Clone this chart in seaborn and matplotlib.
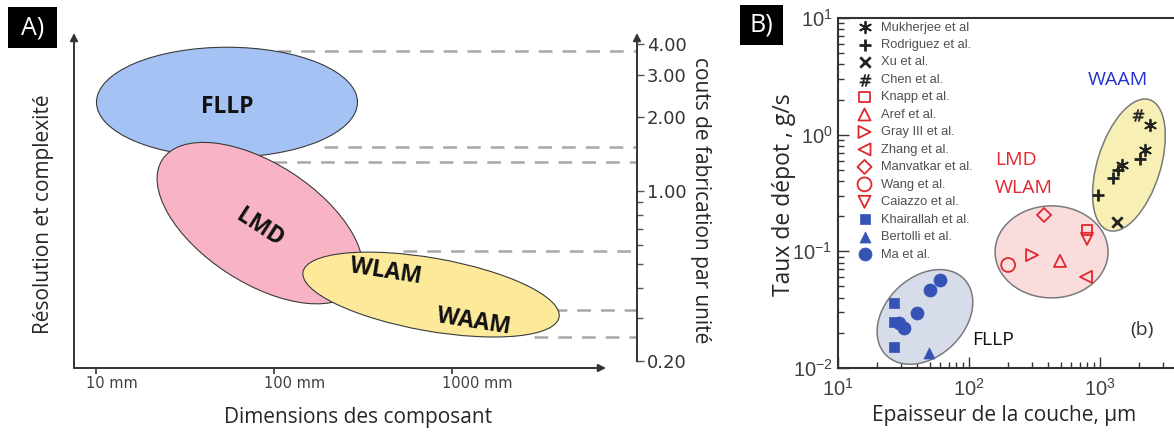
import numpy as np
import pandas as pd
import matplotlib
matplotlib.use('Agg')
import matplotlib.pyplot as plt
import seaborn as sns
from matplotlib.patches import Ellipse, Rectangle
from matplotlib.transforms import IdentityTransform, blended_transform_factory, offset_copy
from matplotlib.ticker import FixedLocator, LogLocator, NullFormatter, NullLocator

sns.set_style('white')
plt.rcParams['font.family'] = ['Open Sans', 'DejaVu Sans']

# ---------------- panel A : size vs cost map ----------------
size_ticks = [10, 100, 1000]
size_labels = ['10 mm', '100 mm', '1000 mm']
cost_ticks = [0.2, 1, 2, 3, 4]
cost_labels = ['0.20', '1.00', '2.00', '3.00', '4.00']
cost_minor = [0.3, 0.4, 0.5, 0.6, 0.7, 0.8, 0.9]

zone_size = [54.4, 83.4, 762]      # mm, centre of each process zone
zone_cost = [2.31, 0.738, 0.376]

zone_text = ['FLLP', 'LMD', 'WLAM', 'WAAM']
zone_text_size = [54.4, 83.4, 426, 1330]
zone_text_cost = [2.21, 0.705, 0.465, 0.290]

dash_cost = [3.75, 1.51, 1.31, 0.567, 0.325, 0.252]
dash_start = [104, 191, 98.6, 531, 3690, 2890]

# ---------------- panel B : deposition rate vs layer thickness ----------------
studies = ['Mukherjee et al', 'Rodriguez et al.', 'Xu et al.', 'Chen et al.',
           'Knapp et al.', 'Aref et al.', 'Gray III et al.', 'Zhang et al.',
           'Manvatkar et al.', 'Wang et al.', 'Caiazzo et al.',
           'Khairallah et al.', 'Bertolli et al.', 'Ma et al.']

point_study = (['Mukherjee et al'] * 3 + ['Rodriguez et al.'] * 4 + ['Xu et al.', 'Chen et al.',
               'Knapp et al.', 'Aref et al.', 'Gray III et al.', 'Zhang et al.',
               'Manvatkar et al.', 'Wang et al.', 'Caiazzo et al.']
               + ['Khairallah et al.'] * 3 + ['Bertolli et al.'] + ['Ma et al.'] * 5)
point_thickness = [1472, 2210, 2410,
                   966, 1256, 1371, 2018,
                   1349, 1950,
                   796, 495, 303, 782, 374, 199, 796,
                   26.7, 26.7, 26.7,
                   49.5,
                   29.3, 31.9, 40.1, 50.4, 60.1]
point_rate = [0.549, 0.739, 1.21,
              0.304, 0.426, 0.499, 0.619,
              0.179, 1.48,
              0.152, 0.0828, 0.093, 0.0604, 0.205, 0.0764, 0.128,
              0.0362, 0.0248, 0.0152,
              0.0135,
              0.0243, 0.0221, 0.0297, 0.0467, 0.0569]

group_size = [46.1, 427, 1663]     # centres of the three clusters
group_rate = [0.0274, 0.0989, 0.549]

df_b = pd.DataFrame({'study': point_study, 'thickness': point_thickness, 'rate': point_rate})

# ---------------- figure ----------------
fig = plt.figure(figsize=(11.74, 4.32), dpi=100)
W, H = 1174, 432
dark = '#333333'

ax_a = fig.add_axes([74 / W, 64 / H, 563 / W, 335 / H])
ax_a.set_xscale('log')
ax_a.set_yscale('log')
ax_a.set_xlim(7.52, 10940)
ax_a.set_ylim(0.188, 4.44)
for s in ax_a.spines.values():
    s.set_visible(False)

arrow = dict(arrowstyle='-|>', lw=1.4, color=dark, mutation_scale=11, shrinkA=0, shrinkB=0)
ax_a.annotate('', xy=(0, 1), xytext=(0, 0), xycoords='axes fraction', arrowprops=arrow, annotation_clip=False)
ax_a.annotate('', xy=(0.945, 0), xytext=(0, 0), xycoords='axes fraction', arrowprops=arrow, annotation_clip=False)
ax_a.annotate('', xy=(1, 1), xycoords='axes fraction', xytext=(1, 0.2),
              textcoords=('axes fraction', 'data'), arrowprops=arrow, annotation_clip=False)

ax_a.set_xticks(size_ticks)
ax_a.xaxis.set_minor_locator(NullLocator())
ax_a.tick_params(axis='x', bottom=True, direction='out', length=4, width=1.2, color=dark, labelbottom=False)
trans_x = offset_copy(blended_transform_factory(ax_a.transData, ax_a.transAxes), fig=fig, x=-7, y=-11, units='points')
for v, lab in zip(size_ticks, size_labels):
    ax_a.text(v, 0, lab, transform=trans_x, ha='left', va='center', fontsize=10.5,
              family='DejaVu Sans', color='#404040')

ax_a.yaxis.tick_right()
ax_a.yaxis.set_major_locator(FixedLocator(cost_ticks))
ax_a.set_yticklabels(cost_labels, family='DejaVu Sans')
ax_a.yaxis.set_minor_locator(FixedLocator(cost_minor))
ax_a.yaxis.set_minor_formatter(NullFormatter())
ax_a.tick_params(axis='y', which='major', right=True, direction='out', length=5, width=1.0,
                 color='#555555', labelsize=13, labelcolor='#333333', pad=2)
ax_a.tick_params(axis='y', which='minor', right=True, direction='out', length=4, width=1.0, color='#555555')

ax_a.hlines(dash_cost, dash_start, 10940, colors='#a8a8a8', lw=1.8, linestyles=(0, (5.5, 4)), zorder=1)

zone_shape = [(261, 110, 0), (233, 119, -33), (260, 73, -10)]
zone_colors = ['#a4c2f4', '#f8b4c4', '#fce99a']
for cx, cy, (w, h, ang), col in zip(zone_size, zone_cost, zone_shape, zone_colors):
    px, py = ax_a.transData.transform((cx, cy))
    ax_a.add_patch(Ellipse((px, py), w, h, angle=ang, transform=IdentityTransform(),
                           fc=col, ec='#3a3a3a', lw=0.8, zorder=2, clip_on=False))

for t, x, y, rot in zip(zone_text, zone_text_size, zone_text_cost, [0, -33, -9, -9]):
    ax_a.text(x, y, t, ha='center', va='center', rotation=rot, fontsize=16.5,
              fontweight='bold', color='#111111', zorder=3)

fig.text(44 / W, 1 - 214 / H, 'Résolution et complexité', rotation=90, ha='center', va='center', fontsize=15)
fig.text(358 / W, 1 - 418 / H, 'Dimensions des composant', ha='center', va='center', fontsize=15)
fig.text(701 / W, 1 - 200 / H, 'couts de fabrication par unité', rotation=270, ha='center', va='center', fontsize=15)

# ---------------- panel B ----------------
ax_b = fig.add_axes([838 / W, 64 / H, 393 / W, 350 / H])
ax_b.set_xscale('log')
ax_b.set_yscale('log')

red, blue, black = '#e0282e', '#3553b4', '#222222'
study_markers = [(6, 2, 0), '+', 'x', '$\\#$', 's', '^', '>', '<', 'D', 'o', 'v', 's', '^', 'o']
study_colors = [black] * 4 + [red] * 7 + [blue] * 3
study_open = [False] * 4 + [True] * 7 + [False] * 3
study_s = [70, 70, 55, 70, 52, 75, 75, 75, 51, 100, 75, 52, 63, 88]
study_lw = [1.3, 2.0, 2.0, 0.4, 1.3, 1.3, 1.3, 1.3, 1.3, 1.3, 1.3, 0.5, 0.5, 0.5]

group_shape = [(109, 79, 44), (113, 92, 0), (137, 63, 72.6)]
group_colors = ['#d7dcea', '#fadcdc', '#f8efb4']
ax_b.set_xlim(10, 1e4)
ax_b.set_ylim(0.01, 10)
for cx, cy, (w, h, ang), col in zip(group_size, group_rate, group_shape, group_colors):
    px, py = ax_b.transData.transform((cx, cy))
    ax_b.add_patch(Ellipse((px, py), w, h, angle=ang, transform=IdentityTransform(),
                           fc=col, ec='#7a7a7a', lw=1.1, zorder=1, clip_on=False))

for name, mk, col, is_open, s, lw in zip(studies, study_markers, study_colors, study_open, study_s, study_lw):
    sub = df_b[df_b['study'] == name]
    face = 'none' if is_open else col
    sns.scatterplot(data=sub, x='thickness', y='rate', marker=mk, s=s, color=col,
                    facecolor=face, edgecolor=col, linewidth=lw, label=name, ax=ax_b, zorder=3)

ax_b.set_xlim(10, 1e4)
ax_b.set_ylim(0.01, 10)
ax_b.set_xlabel('')
ax_b.set_ylabel('')
ax_b.set_xticks([10, 100, 1000, 10000], ['$\\mathdefault{10^{1}}$', '$\\mathdefault{10^{2}}$',
                                         '$\\mathdefault{10^{3}}$', ''],
                family='Liberation Sans', fontsize=14.5, color='#404040')
ax_b.set_yticks([0.01, 0.1, 1, 10], ['$\\mathdefault{10^{-2}}$', '$\\mathdefault{10^{-1}}$',
                                     '$\\mathdefault{10^{0}}$', '$\\mathdefault{10^{1}}$'],
                family='Liberation Sans', fontsize=14.5, color='#404040')
ax_b.xaxis.set_minor_locator(LogLocator(base=10, subs=np.arange(2, 10)))
ax_b.yaxis.set_minor_locator(LogLocator(base=10, subs=np.arange(2, 10)))
ax_b.xaxis.set_minor_formatter(NullFormatter())
ax_b.yaxis.set_minor_formatter(NullFormatter())
ax_b.tick_params(which='both', left=True, bottom=True, direction='in', color=dark, width=1.0)
ax_b.tick_params(which='major', length=8)
ax_b.tick_params(axis='x', which='major', pad=7)
ax_b.tick_params(axis='y', which='major', pad=4)
ax_b.tick_params(which='minor', length=4)
for side in ['left', 'bottom', 'top']:
    ax_b.spines[side].set_color(dark)
    ax_b.spines[side].set_linewidth(1.5)
ax_b.spines['right'].set_visible(False)

ax_b.legend(loc='upper left', bbox_to_anchor=(0.051, 0.99), frameon=False,
            prop={'family': 'Liberation Sans', 'size': 9.3}, labelcolor='#505050',
            handlelength=1.0, handletextpad=0.8, labelspacing=0.42, borderpad=0, borderaxespad=0,
            scatterpoints=1)

ax_b.text(1371, 2.94, 'WAAM', color='#2233cc', fontsize=14, ha='center', va='center')
ax_b.text(158, 0.607, 'LMD', color=red, fontsize=14, ha='left', va='center')
ax_b.text(158, 0.349, 'WLAM', color=red, fontsize=14, ha='left', va='center')
ax_b.text(152, 0.0174, 'FLLP', color='#111111', fontsize=14, ha='center', va='center')
ax_b.text(2094, 0.0212, '(b)', color=dark, fontsize=14, ha='center', va='center')

fig.text(784 / W, 1 - 195 / H, 'Taux de dépot , g/s', rotation=90, ha='center', va='center', fontsize=16.5)
fig.text(1004 / W, 1 - 415 / H, 'Epaisseur de la couche, µm', ha='center', va='center', fontsize=15)

# panel tags
fig.add_artist(Rectangle((8 / W, 1 - 48 / H), 49 / W, 41 / H, transform=fig.transFigure, fc='black', ec='none'))
fig.text(32.5 / W, 1 - 28 / H, 'A)', color='white', fontsize=18, ha='center', va='center')
fig.add_artist(Rectangle((740 / W, 1 - 45 / H), 43 / W, 40 / H, transform=fig.transFigure, fc='black', ec='none'))
fig.text(761.5 / W, 1 - 25.5 / H, 'B)', color='white', fontsize=18, ha='center', va='center')

fig.savefig('out.png', dpi=100)
